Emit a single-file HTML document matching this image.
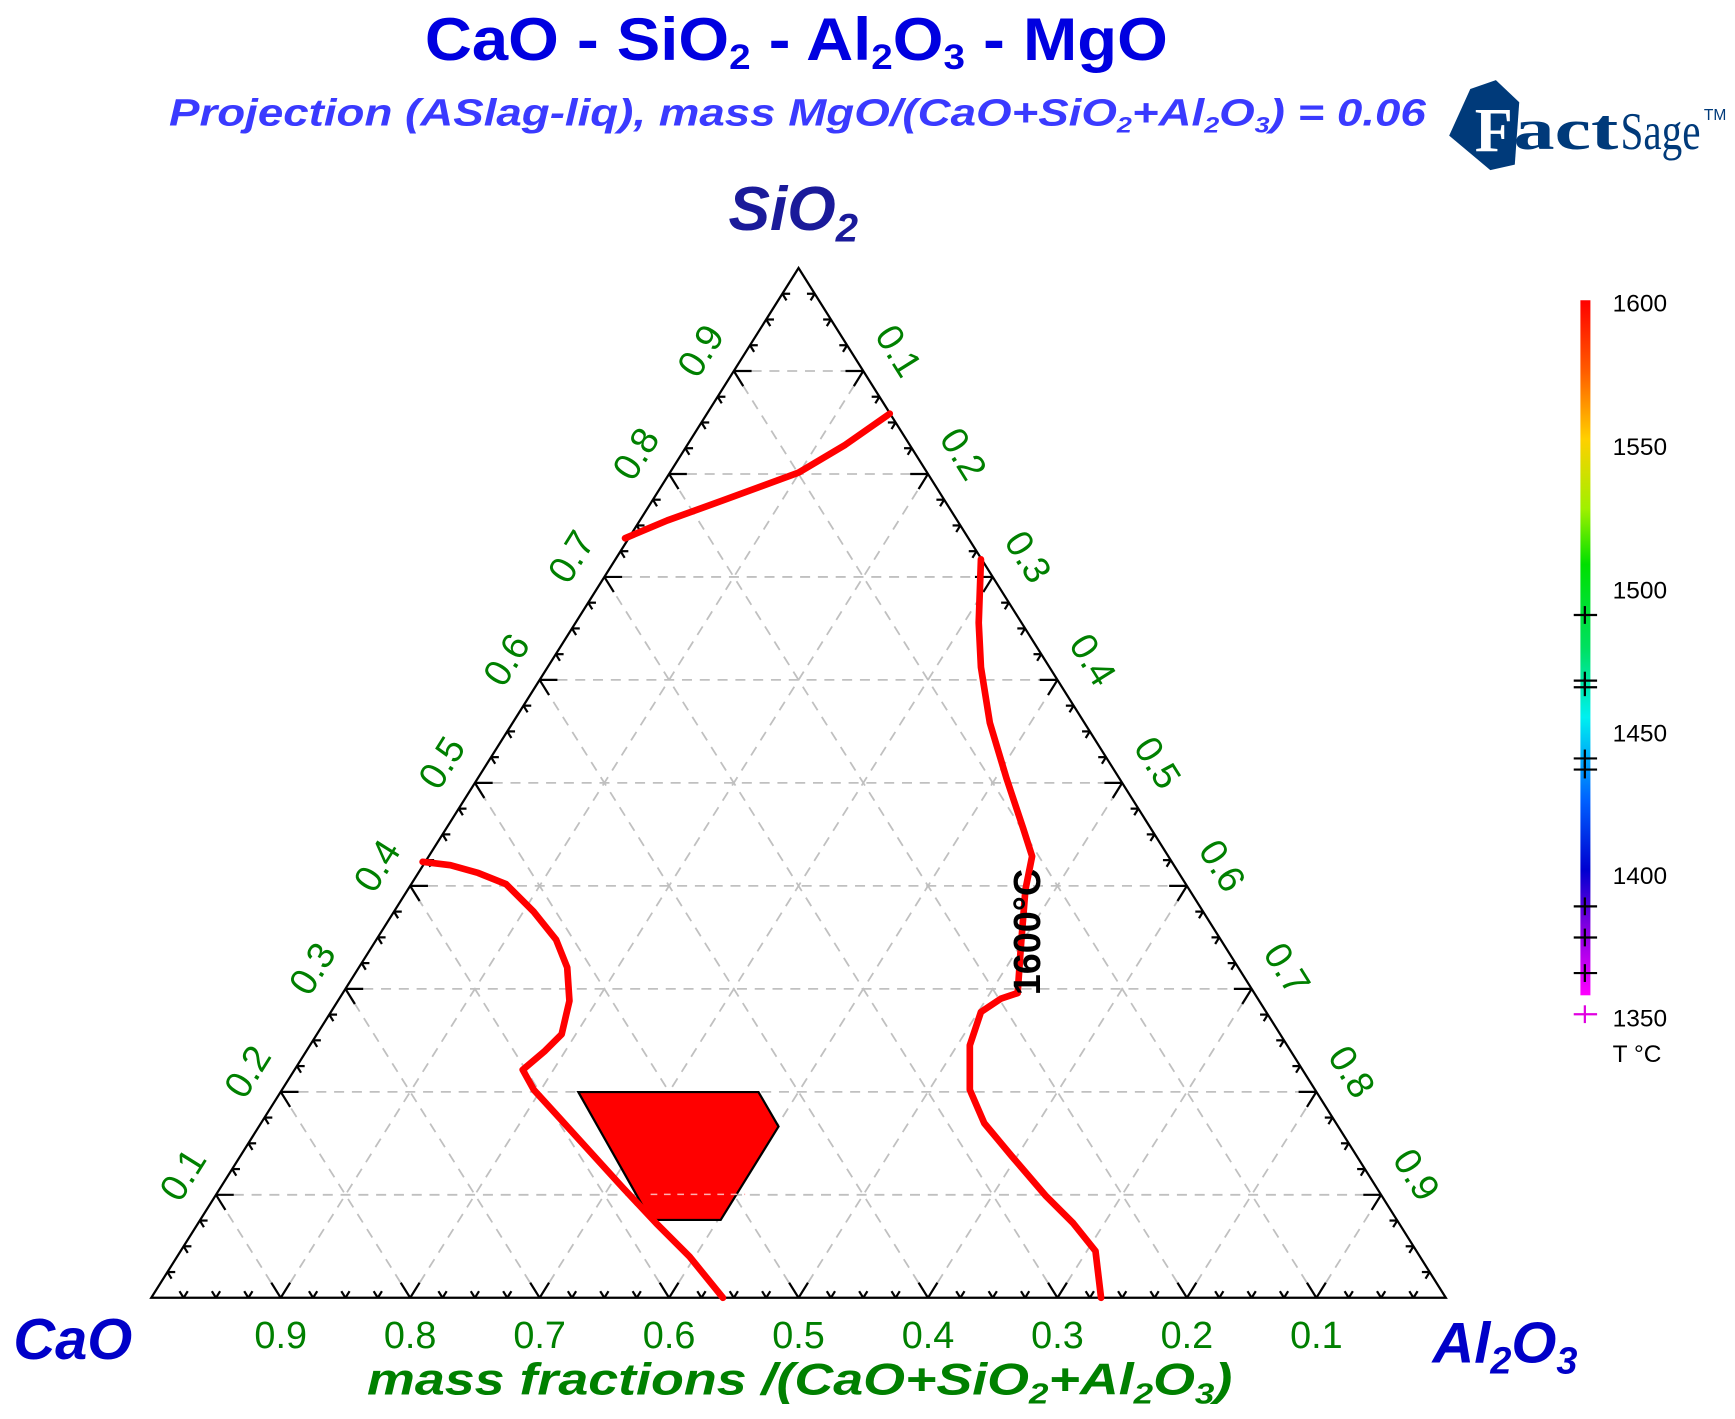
<!DOCTYPE html>
<html><head><meta charset="utf-8"><style>
html,body{margin:0;padding:0;background:#fff;}
svg{display:block;}
</style></head><body>
<svg id="s" width="1735" height="1419" viewBox="0 0 1560 1276" preserveAspectRatio="none" xmlns="http://www.w3.org/2000/svg" font-family="Liberation Sans, Arial, sans-serif">
<defs>
<linearGradient id="cb" x1="0" y1="0" x2="0" y2="1">
<stop offset="0" stop-color="#ff0000"/>
<stop offset="0.1" stop-color="#ff5a00"/>
<stop offset="0.2" stop-color="#ffd000"/>
<stop offset="0.3" stop-color="#a0f000"/>
<stop offset="0.38" stop-color="#00e000"/>
<stop offset="0.5" stop-color="#00e060"/>
<stop offset="0.6" stop-color="#00f0f0"/>
<stop offset="0.72" stop-color="#0060ff"/>
<stop offset="0.82" stop-color="#0000d0"/>
<stop offset="0.9" stop-color="#8000e0"/>
<stop offset="1" stop-color="#ff00ff"/>
</linearGradient>
</defs>
<g id="grid" stroke="#c0c0c0" stroke-width="1.6" stroke-dasharray="9,7" fill="none"></g>
<g id="ticks" stroke="#000" stroke-width="2" fill="none"></g>
<polygon points="136,1167 1300,1167 718,241" fill="none" stroke="#000" stroke-width="2"/>
<polygon points="520,982 682,982 700,1013 648,1097 585,1097" fill="#ff0000" stroke="#000" stroke-width="2"/>
<g id="grid2" stroke="#e0a0a0" stroke-width="1.4" stroke-dasharray="6,6" fill="none"></g>
<g stroke="#ff0000" stroke-width="6" fill="none" stroke-linejoin="round" stroke-linecap="round">
<polyline points="800,372 760,400 718,425 650,450 600,468 562,484"/>
<polyline points="882,503 880,560 882,600 890,650 905,700 920,745 928,770 922,800 918,850 915,893 900,898 882,910 872,940 872,980 885,1010 910,1040 940,1075 965,1100 985,1125 990,1167"/>
<polyline points="380,775 405,778 430,785 455,795 480,820 500,845 510,870 512,900 505,930 490,945 470,962 480,980 500,1002 530,1035 560,1068 590,1100 620,1130 650,1167"/>
</g>
<text transform="translate(935,895) rotate(-90)" font-size="34" font-weight="bold" fill="#000">1600°C</text>
<g id="labels" fill="#008000" font-size="34"></g>
<text x="716" y="54" text-anchor="middle" font-size="54" font-weight="bold" fill="#0000e0" textLength="668" lengthAdjust="spacingAndGlyphs">CaO - SiO<tspan font-size="32" dy="8">2</tspan><tspan dy="-8"> - Al</tspan><tspan font-size="32" dy="8">2</tspan><tspan dy="-8">O</tspan><tspan font-size="32" dy="8">3</tspan><tspan dy="-8"> - MgO</tspan></text>
<text x="152" y="113" font-size="34" font-style="italic" font-weight="bold" fill="#3a3aff" textLength="1130" lengthAdjust="spacingAndGlyphs">Projection (ASlag-liq),  mass MgO/(CaO+SiO<tspan font-size="20" dy="6">2</tspan><tspan dy="-6">+Al</tspan><tspan font-size="20" dy="6">2</tspan><tspan dy="-6">O</tspan><tspan font-size="20" dy="6">3</tspan><tspan dy="-6">) = 0.06</tspan></text>
<polygon points="1303,122 1322,80 1345,72 1366,92 1362,148 1340,153" fill="#003a7a"/>
<text x="1326" y="136" font-size="56" font-weight="bold" fill="#fff" font-family="Liberation Serif, serif">F</text>
<text x="1361" y="134" font-size="52" font-weight="bold" fill="#003a7a" font-family="Liberation Serif, serif" textLength="94" lengthAdjust="spacingAndGlyphs">act</text>
<text x="1457" y="134" font-size="48" fill="#003a7a" font-family="Liberation Serif, serif" textLength="72" lengthAdjust="spacingAndGlyphs">Sage</text>
<text x="1532" y="108" font-size="14" fill="#003a7a">TM</text>
<text x="655" y="207" font-size="56" font-style="italic" font-weight="bold" fill="#1a1a9a">SiO<tspan font-size="36" dy="10">2</tspan></text>
<text x="12" y="1222" font-size="52" font-style="italic" font-weight="bold" fill="#0000c8">CaO</text>
<text x="1288" y="1225" font-size="52" font-style="italic" font-weight="bold" fill="#0000c8">Al<tspan font-size="34" dy="10">2</tspan><tspan dy="-10">O</tspan><tspan font-size="34" dy="10">3</tspan></text>
<text x="330" y="1254" font-size="40" font-style="italic" font-weight="bold" fill="#008000" textLength="778" lengthAdjust="spacingAndGlyphs">mass fractions /(CaO+SiO<tspan font-size="26" dy="8">2</tspan><tspan dy="-8">+Al</tspan><tspan font-size="26" dy="8">2</tspan><tspan dy="-8">O</tspan><tspan font-size="26" dy="8">3</tspan><tspan dy="-8">)</tspan></text>
<rect x="1421" y="270" width="9" height="625" fill="url(#cb)"/>
<g id="cbt" stroke="#000" stroke-width="2"></g>
<g font-size="22" fill="#000">
<text x="1450" y="280">1600</text><text x="1450" y="409">1550</text><text x="1450" y="538">1500</text>
<text x="1450" y="667">1450</text><text x="1450" y="795">1400</text><text x="1450" y="923">1350</text>
<text x="1450" y="955">T °C</text>
</g>
</svg>
<script>
var NS="http://www.w3.org/2000/svg";
function P(l,s){return [136+1164*(l+s/2),1167-926*s];}
function el(g,t,a){var e=document.createElementNS(NS,t);for(var k in a)e.setAttribute(k,a[k]);document.getElementById(g).appendChild(e);return e;}
for(var i=1;i<10;i++){var f=i/10;
 var a=P(0,f),b=P(1-f,f);el("grid","line",{x1:a[0],y1:a[1],x2:b[0],y2:b[1]});
 a=P(f,0);b=P(f,1-f);el("grid","line",{x1:a[0],y1:a[1],x2:b[0],y2:b[1]});
 a=P(1-f,0);b=P(0,1-f);el("grid","line",{x1:a[0],y1:a[1],x2:b[0],y2:b[1]});
}
for(var j=1;j<40;j++){var f=j/40,L=(j%4==0)?16:7;
 var p=P(f,0);el("ticks","line",{x1:p[0],y1:p[1],x2:p[0]-L*0.53,y2:p[1]-L*0.85});el("ticks","line",{x1:p[0],y1:p[1],x2:p[0]+L*0.53,y2:p[1]-L*0.85});
 p=P(0,f);el("ticks","line",{x1:p[0],y1:p[1],x2:p[0]+L,y2:p[1]});el("ticks","line",{x1:p[0],y1:p[1],x2:p[0]+L*0.53,y2:p[1]+L*0.85});
 p=P(1-f,f);el("ticks","line",{x1:p[0],y1:p[1],x2:p[0]-L,y2:p[1]});el("ticks","line",{x1:p[0],y1:p[1],x2:p[0]-L*0.53,y2:p[1]+L*0.85});
}
for(var i=1;i<10;i++){var f=i/10,t;
 var p=P(0,f);t=el("labels","text",{transform:"translate("+(p[0]-20)+","+(p[1]-12)+") rotate(-58)","text-anchor":"middle"});t.textContent=f.toFixed(1);
 p=P(1-f,f);t=el("labels","text",{transform:"translate("+(p[0]+22)+","+(p[1]-12)+") rotate(58)","text-anchor":"middle"});t.textContent=(1-f).toFixed(1);
 p=P(f,0);t=el("labels","text",{x:p[0],y:1212,"text-anchor":"middle"});t.textContent=(1-f).toFixed(1);
}
el("grid2","line",{x1:585,y1:1074,x2:670,y2:1074,stroke:"#ffb0b0"});
[553,612,618,682,692,815,843,875].forEach(function(y){el("cbt","line",{x1:1415,y1:y,x2:1436,y2:y});el("cbt","line",{x1:1425,y1:y-8,x2:1425,y2:y+8});});
el("cbt","line",{x1:1415,y1:912,x2:1436,y2:912,stroke:"#e000e0"});el("cbt","line",{x1:1425,y1:904,x2:1425,y2:920,stroke:"#e000e0"});
</script>
</body></html>
